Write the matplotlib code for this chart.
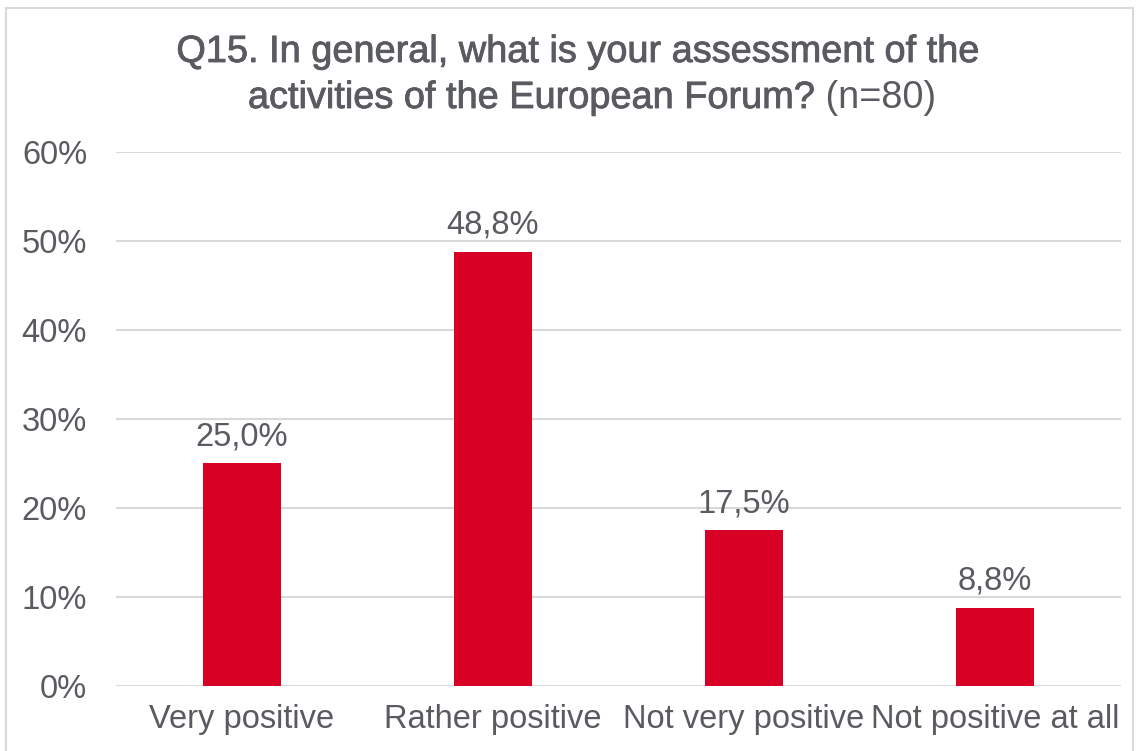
import matplotlib
matplotlib.use('Agg')
import matplotlib.pyplot as plt
import matplotlib.patheffects as pe
from matplotlib.lines import Line2D

# data
categories = ['Very positive', 'Rather positive', 'Not very positive', 'Not positive at all']
values = [25.0, 48.8, 17.5, 8.8]
yticks = [0, 10, 20, 30, 40, 50, 60]

txt = '#595b60'
red = '#D90026'
plt.rcParams['font.family'] = ['Liberation Sans', 'DejaVu Sans']

W, H = 1139, 751
fig = plt.figure(figsize=(W / 100, H / 100), dpi=100)
ax = fig.add_axes([0.102, 0.0866, 0.882, 0.711])

x = range(len(categories))
bars = ax.bar(x, values, width=0.31, color=red, zorder=3)
for b, v in zip(bars, values):
    lbl = ('%.1f%%' % v).replace('.', ',')
    ax.annotate(lbl, (b.get_x() + b.get_width() / 2, v), xytext=(0, 8),
                textcoords='offset points', ha='center', va='bottom',
                fontsize=23.5, color=txt)

ax.set_xlim(-0.5, len(categories) - 0.5)
ax.set_ylim(0, 60)
ax.set_yticks(yticks)
ax.set_yticklabels(['%d%%' % t for t in yticks])
ax.set_xticks(list(x))
ax.set_xticklabels(categories)
ax.tick_params(axis='both', length=0, labelsize=23.5, labelcolor=txt)
ax.tick_params(axis='y', pad=21)
ax.tick_params(axis='x', pad=13)
ax.grid(axis='y', color='#d9d9d9', linewidth=1.5, zorder=0)
for s in ax.spines.values():
    s.set_visible(False)

# title: medium weight main part, regular "(n=80)"
heavy = [pe.withStroke(linewidth=0.6, foreground=txt)]
ts = 27.3
fig.text(578 / W, 1 - 62 / H, 'Q15. In general, what is your assessment of the',
         ha='center', va='baseline', fontsize=ts, color=txt, path_effects=heavy)
r = fig.canvas.get_renderer()
t1 = fig.text(0, 1 - 108 / H, 'activities of the European Forum?',
              ha='left', va='baseline', fontsize=ts, color=txt, path_effects=heavy)
t2 = fig.text(0, 1 - 108 / H, ' (n=80)', ha='left', va='baseline',
              fontsize=ts, color=txt)
w1 = t1.get_window_extent(r).width
w2 = t2.get_window_extent(r).width
x0 = 592 - (w1 + w2) / 2
t1.set_x(x0 / W)
t2.set_x((x0 + w1) / W)

# light border around the chart area
bc = '#d9d9d9'
fig.add_artist(Line2D([0.0055, 0.0055], [0, 0.989], color=bc, lw=1.5))
fig.add_artist(Line2D([0.0055, 0.995], [0.989, 0.989], color=bc, lw=1.5))
fig.add_artist(Line2D([0.995, 0.995], [0, 0.989], color=bc, lw=1.5))

fig.savefig('out.png', dpi=100)
